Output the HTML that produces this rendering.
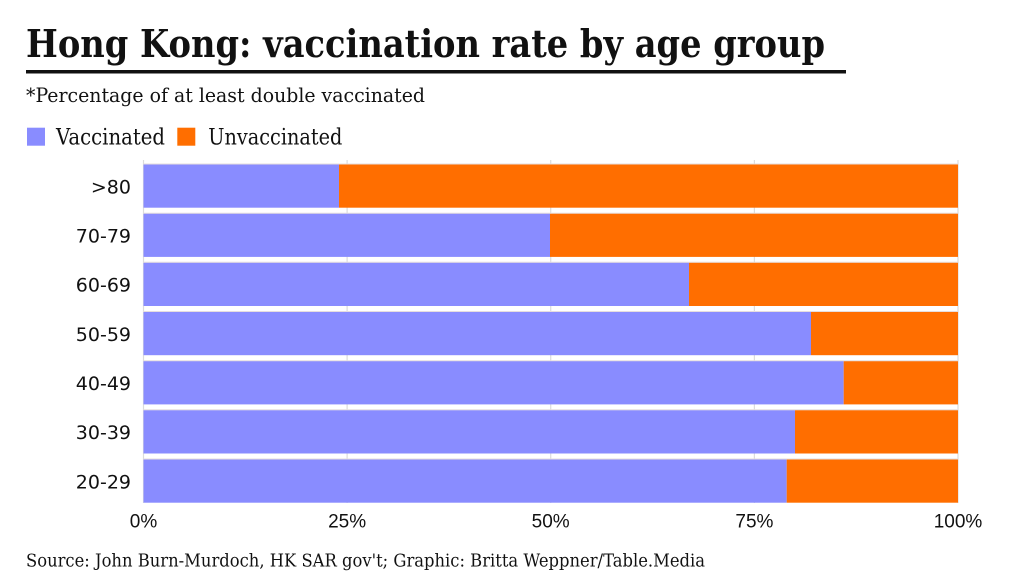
<!DOCTYPE html>
<html><head><meta charset="utf-8"><style>
html,body{margin:0;padding:0;background:#fff;width:1024px;height:576px;overflow:hidden}
svg{display:block}
</style></head><body>
<svg width="1024" height="576" viewBox="0 0 1024 576" xmlns="http://www.w3.org/2000/svg">
<rect width="1024" height="576" fill="#fff"/>
<text x="26" y="57" font-family="'DejaVu Serif','Liberation Serif',serif" font-weight="bold" font-size="38.5" fill="#111" textLength="799" lengthAdjust="spacingAndGlyphs">Hong Kong: vaccination rate by age group</text>
<rect x="26" y="70" width="820" height="3.5" fill="#111"/>
<text x="26" y="102" font-family="'DejaVu Serif','Liberation Serif',serif" font-size="19.5" fill="#111" textLength="399" lengthAdjust="spacingAndGlyphs">*Percentage of at least double vaccinated</text>
<rect x="27" y="127.7" width="18" height="18" fill="#898CFF"/>
<text x="56" y="144.7" font-family="'DejaVu Serif','Liberation Serif',serif" font-size="22" fill="#111" textLength="109" lengthAdjust="spacingAndGlyphs">Vaccinated</text>
<rect x="177.3" y="127.7" width="18" height="18" fill="#FF6E00"/>
<text x="208.3" y="144.7" font-family="'DejaVu Serif','Liberation Serif',serif" font-size="22" fill="#111" textLength="134" lengthAdjust="spacingAndGlyphs">Unvaccinated</text>
<g stroke="#dcdcdc" stroke-width="1.2">
<line x1="143.5" y1="160" x2="143.5" y2="503"/>
<line x1="347.1" y1="160" x2="347.1" y2="503"/>
<line x1="550.7" y1="160" x2="550.7" y2="503"/>
<line x1="754.4" y1="160" x2="754.4" y2="503"/>
<line x1="958" y1="160" x2="958" y2="503"/>
</g>
<g>
<rect x="143.5" y="164.3" width="195.5" height="43.4" fill="#898CFF"/><rect x="339" y="164.3" width="619" height="43.4" fill="#FF6E00"/>
<rect x="143.5" y="213.5" width="406.5" height="43.4" fill="#898CFF"/><rect x="550" y="213.5" width="408" height="43.4" fill="#FF6E00"/>
<rect x="143.5" y="262.6" width="545.5" height="43.4" fill="#898CFF"/><rect x="689" y="262.6" width="269" height="43.4" fill="#FF6E00"/>
<rect x="143.5" y="311.8" width="667.5" height="43.4" fill="#898CFF"/><rect x="811" y="311.8" width="147" height="43.4" fill="#FF6E00"/>
<rect x="143.5" y="361" width="700.2" height="43.4" fill="#898CFF"/><rect x="843.7" y="361" width="114.3" height="43.4" fill="#FF6E00"/>
<rect x="143.5" y="410.1" width="651.5" height="43.4" fill="#898CFF"/><rect x="795" y="410.1" width="163" height="43.4" fill="#FF6E00"/>
<rect x="143.5" y="459.3" width="643.2" height="43.4" fill="#898CFF"/><rect x="786.7" y="459.3" width="171.3" height="43.4" fill="#FF6E00"/>
</g>
<g stroke="#e6dede" stroke-width="1">
<line x1="143.5" y1="164" x2="958" y2="164"/>
<line x1="143.5" y1="213.2" x2="958" y2="213.2"/>
<line x1="143.5" y1="262.3" x2="958" y2="262.3"/>
<line x1="143.5" y1="311.5" x2="958" y2="311.5"/>
<line x1="143.5" y1="360.7" x2="958" y2="360.7"/>
<line x1="143.5" y1="409.8" x2="958" y2="409.8"/>
<line x1="143.5" y1="459" x2="958" y2="459"/>
</g>
<g font-family="'DejaVu Sans','Liberation Sans',sans-serif" font-size="19" fill="#111" text-anchor="end">
<text x="131" y="193.3">&gt;80</text>
<text x="131" y="242.5">70-79</text>
<text x="131" y="291.6">60-69</text>
<text x="131" y="340.8">50-59</text>
<text x="131" y="390">40-49</text>
<text x="131" y="439.1">30-39</text>
<text x="131" y="488.3">20-29</text>
</g>
<g font-family="'Liberation Sans',sans-serif" font-size="19" fill="#111" text-anchor="middle">
<text x="143.5" y="527.3">0%</text>
<text x="347.1" y="527.3">25%</text>
<text x="550.7" y="527.3">50%</text>
<text x="754.4" y="527.3">75%</text>
<text x="958" y="527.3">100%</text>
</g>
<text x="26" y="566.7" font-family="'DejaVu Serif','Liberation Serif',serif" font-size="17.5" fill="#111" textLength="679" lengthAdjust="spacingAndGlyphs">Source: John Burn-Murdoch, HK SAR gov't; Graphic: Britta Weppner/Table.Media</text>
</svg>
</body></html>
